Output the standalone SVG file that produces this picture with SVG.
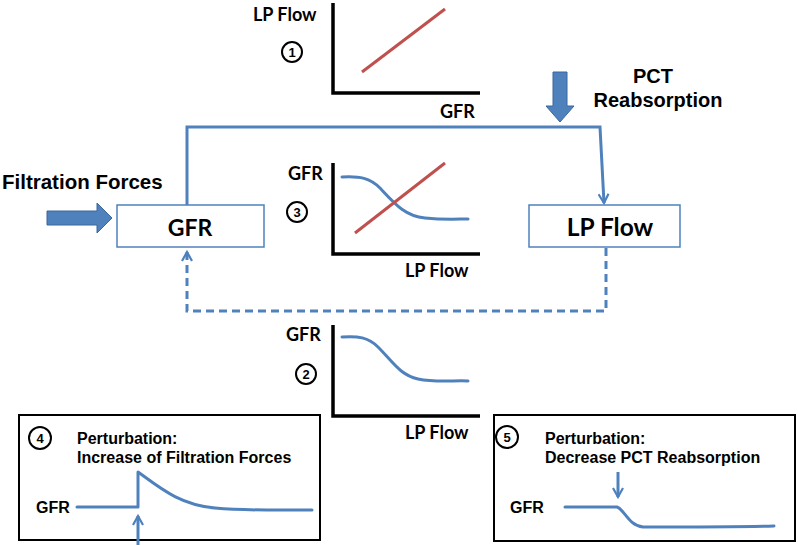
<svg xmlns="http://www.w3.org/2000/svg" width="798" height="545" viewBox="0 0 798 545">
<defs>
<style>
.cal{font-family:Lato,"Open Sans","Liberation Sans",sans-serif;font-weight:bold;fill:#000}
.ari{font-family:"Liberation Sans",Arial,sans-serif;font-weight:bold;fill:#000}
.axis{fill:none;stroke:#000;stroke-width:3.5}
.red{fill:none;stroke:#C0504D;stroke-width:3}
.blue{fill:none;stroke:#4F81BD;stroke-width:3;stroke-linecap:round;stroke-linejoin:round}
.conn{fill:none;stroke:#4F81BD;stroke-width:3}
.node{fill:#fff;stroke:#4F81BD;stroke-width:1.5}
.circ{fill:#fff;stroke:#000;stroke-width:2}
.num{font-family:"Liberation Sans",Arial,sans-serif;font-weight:bold;font-size:13px;text-anchor:middle}
.panel{fill:#fff;stroke:#000;stroke-width:2}
.block{fill:#4F81BD;stroke:#3A679C;stroke-width:1}
</style>
<marker id="open" viewBox="0 0 12 12" refX="10" refY="6" markerWidth="12" markerHeight="12" markerUnits="userSpaceOnUse" orient="auto">
<path d="M1,1 L10,6 L1,11" fill="none" stroke="#4F81BD" stroke-width="2.2"/>
</marker>
</defs>

<g id="chart1">
<path class="axis" d="M333,3 V93 H480"/>
<line class="red" x1="362" y1="72" x2="445" y2="9"/>
<text class="cal" x="253" y="21" font-size="18">LP Flow</text>
<circle class="circ" cx="292" cy="52" r="10"/>
<text class="num" x="292" y="57">1</text>
<text class="cal" x="440" y="118" font-size="18">GFR</text>
</g>

<g id="chart3">
<path class="axis" d="M333,163 V254 H480"/>
<path class="blue" d="M342,177 C360,176 370,178 380,188 C395,204 405,216 425,218 C445,220 458,219 468,219"/>
<line class="red" x1="355" y1="233" x2="445" y2="163"/>
<text class="cal" x="288" y="180" font-size="18">GFR</text>
<circle class="circ" cx="297" cy="212" r="10"/>
<text class="num" x="297" y="217">3</text>
<text class="cal" x="405" y="277" font-size="18">LP Flow</text>
</g>

<g id="chart2">
<path class="axis" d="M333,325 V416 H480"/>
<path class="blue" d="M342,337 C358,336 368,337 378,347 C393,362 400,375 418,379 C438,383 455,380 468,381"/>
<text class="cal" x="286" y="341" font-size="18">GFR</text>
<circle class="circ" cx="306" cy="374" r="10"/>
<text class="num" x="306" y="379">2</text>
<text class="cal" x="405" y="439" font-size="18">LP Flow</text>
</g>

<g id="connectors">
<path class="conn" d="M187,205 V127 H600 L604,203" marker-end="url(#open)"/>
<path class="conn" d="M606,248 V311 H187 V252" stroke-dasharray="8,5" marker-end="url(#open)"/>
</g>

<g id="filtration-forces">
<text class="ari" x="2" y="189" font-size="20.5">Filtration Forces</text>
<path class="block" d="M47,211 H97 V203 L112,218 L97,233 V225 H47 Z"/>
</g>

<g id="pct-reabsorption">
<text class="ari" x="653" y="83" font-size="20" text-anchor="middle">PCT</text>
<text class="ari" x="658" y="107" font-size="20" text-anchor="middle">Reabsorption</text>
<path class="block" d="M553,72 H567 V106 H574 L560,122 L546,106 H553 Z"/>
</g>

<g id="gfr-node">
<rect class="node" x="117" y="205" width="147" height="42"/>
<text class="cal" x="190" y="236" font-size="23" text-anchor="middle">GFR</text>
</g>

<g id="lpflow-node">
<rect class="node" x="529" y="205" width="151" height="42"/>
<text class="cal" x="610" y="236" font-size="24.5" text-anchor="middle">LP Flow</text>
</g>

<g id="panel4">
<rect class="panel" x="19" y="415" width="301" height="125"/>
<circle class="circ" cx="40" cy="438" r="11"/>
<text class="num" x="40" y="443">4</text>
<text class="ari" x="77" y="444" font-size="16">Perturbation:</text>
<text class="ari" x="77" y="463" font-size="16">Increase of Filtration Forces</text>
<text class="ari" x="36" y="513" font-size="16">GFR</text>
<path class="blue" d="M77,507 H138 V472 C160,488 180,505 215,508 C250,511 280,510 312,510"/>
<line class="conn" x1="138" y1="545" x2="138" y2="516" marker-end="url(#open)"/>
</g>

<g id="panel5">
<rect class="panel" x="494" y="415" width="301" height="126"/>
<circle class="circ" cx="507" cy="437" r="11"/>
<text class="num" x="507" y="442">5</text>
<text class="ari" x="545" y="444" font-size="16">Perturbation:</text>
<text class="ari" x="545" y="463" font-size="16">Decrease PCT Reabsorption</text>
<text class="ari" x="510" y="513" font-size="16">GFR</text>
<path class="blue" d="M565,507 H617 C625,510 628,525 643,527 C680,527 740,527 774,526"/>
<line class="conn" x1="618" y1="472" x2="618" y2="497" marker-end="url(#open)"/>
</g>
</svg>
